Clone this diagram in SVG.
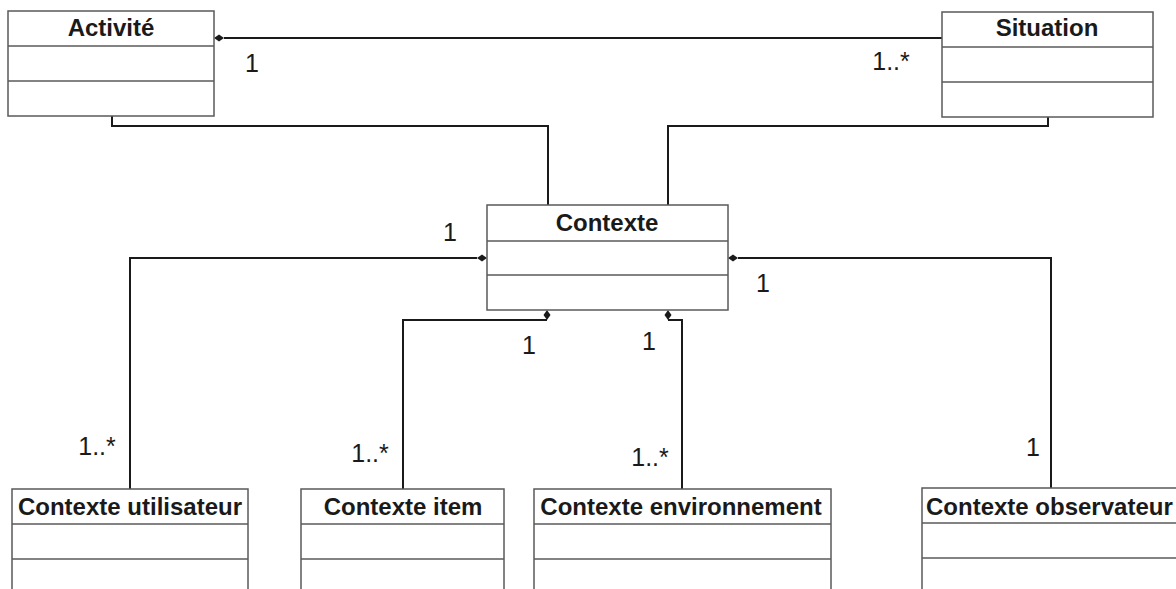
<svg xmlns="http://www.w3.org/2000/svg" width="1176" height="589" viewBox="0 0 1176 589">
<style>
.box{fill:#fff;stroke:#5a5a5a;stroke-width:1.5}
.div{stroke:#5a5a5a;stroke-width:1.5}
.title{font-family:"Liberation Sans",Arial,sans-serif;font-weight:bold;font-size:24px;fill:#1a1a1a;text-anchor:middle}
.lbl{font-family:"Liberation Sans",Arial,sans-serif;font-size:25px;fill:#1a1a1a;text-anchor:middle}
.conn{fill:none;stroke:#1a1a1a;stroke-width:2}
.dia{fill:#1a1a1a}
</style>
<rect width="1176" height="589" fill="#fff"/>
<g id="connectors">
<path class="conn" d="M224 38 H942"/>
<path class="conn" d="M112 116 V126 H548 V205"/>
<path class="conn" d="M1048 117 V126 H668 V205"/>
<path class="conn" d="M477 258 H130 V489"/>
<path class="conn" d="M738 258 H1051 V488"/>
<path class="conn" d="M547 320 H403 V489"/>
<path class="conn" d="M668 320 H682 V489"/>
<polygon class="dia" points="214,38 219,34.5 224,38 219,41.5"/>
<polygon class="dia" points="487,258 482,254.5 477,258 482,261.5"/>
<polygon class="dia" points="728,258 733,254.5 738,258 733,261.5"/>
<polygon class="dia" points="547,310 550.5,315 547,320 543.5,315"/>
<polygon class="dia" points="668,310 671.5,315 668,320 664.5,315"/>
<text class="lbl" x="252" y="72">1</text>
<text class="lbl" x="891" y="70">1..*</text>
<text class="lbl" x="450" y="241">1</text>
<text class="lbl" x="763" y="292">1</text>
<text class="lbl" x="529" y="354">1</text>
<text class="lbl" x="649" y="350">1</text>
<text class="lbl" x="97" y="455">1..*</text>
<text class="lbl" x="370" y="462">1..*</text>
<text class="lbl" x="650" y="466">1..*</text>
<text class="lbl" x="1033" y="456">1</text>
</g>
<g id="activite">
<rect class="box" x="8" y="11" width="206" height="105"/>
<line class="div" x1="8" y1="46" x2="214" y2="46"/>
<line class="div" x1="8" y1="81" x2="214" y2="81"/>
<text class="title" x="111" y="36">Activité</text>
</g>
<g id="situation">
<rect class="box" x="942" y="12" width="211" height="105"/>
<line class="div" x1="942" y1="47" x2="1153" y2="47"/>
<line class="div" x1="942" y1="82" x2="1153" y2="82"/>
<text class="title" x="1047" y="36">Situation</text>
</g>
<g id="contexte">
<rect class="box" x="487" y="205" width="241" height="105"/>
<line class="div" x1="487" y1="241" x2="728" y2="241"/>
<line class="div" x1="487" y1="275" x2="728" y2="275"/>
<text class="title" x="607" y="231">Contexte</text>
</g>
<g id="contexte-utilisateur">
<rect class="box" x="12" y="489" width="236" height="110"/>
<line class="div" x1="12" y1="524" x2="248" y2="524"/>
<line class="div" x1="12" y1="559" x2="248" y2="559"/>
<text class="title" x="130" y="515">Contexte utilisateur</text>
</g>
<g id="contexte-item">
<rect class="box" x="301" y="489" width="203" height="110"/>
<line class="div" x1="301" y1="524" x2="504" y2="524"/>
<line class="div" x1="301" y1="559" x2="504" y2="559"/>
<text class="title" x="403" y="515">Contexte item</text>
</g>
<g id="contexte-environnement">
<rect class="box" x="534" y="489" width="297" height="110"/>
<line class="div" x1="534" y1="524" x2="831" y2="524"/>
<line class="div" x1="534" y1="559" x2="831" y2="559"/>
<text class="title" x="681" y="515">Contexte environnement</text>
</g>
<g id="contexte-observateur">
<rect class="box" x="922" y="488" width="270" height="110"/>
<line class="div" x1="922" y1="523" x2="1192" y2="523"/>
<line class="div" x1="922" y1="558" x2="1192" y2="558"/>
<text class="title" x="926" y="515" style="text-anchor:start">Contexte observateur</text>
</g>
</svg>
